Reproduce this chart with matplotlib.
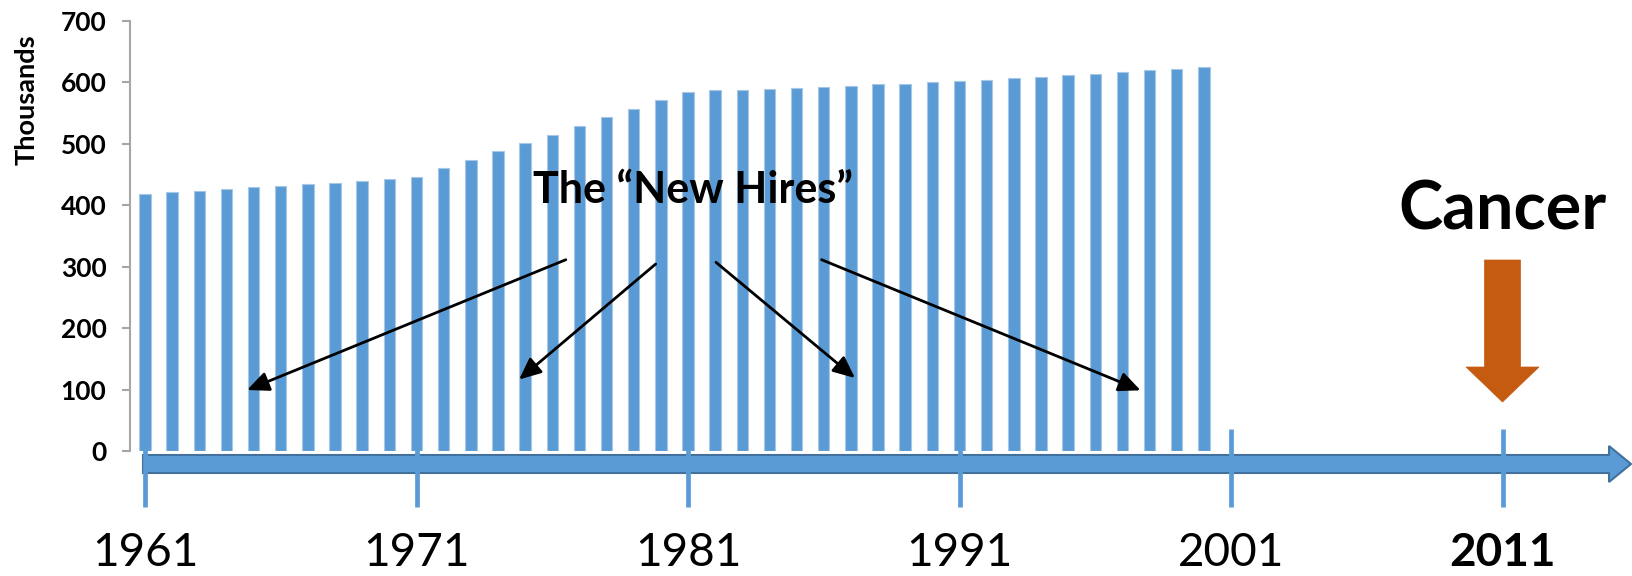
import matplotlib
matplotlib.use("Agg")
import matplotlib.pyplot as plt
from matplotlib.patches import Polygon

plt.rcParams['font.family'] = ['Lato', 'DejaVu Sans']

# ---- data ----
years = list(range(1961, 2001))
values = [418, 421, 423, 426, 429, 432, 435, 437, 440, 442,
          446, 460, 474, 488, 501, 515, 529, 543, 557, 571,
          584, 587, 588, 590, 591, 593, 595, 597, 598, 600,
          602, 604, 607, 609, 612, 614, 617, 620, 622, 625]
tick_years = [1961, 1971, 1981, 1991, 2001, 2011]
tick_labels = ['1961', '1971', '1981', '1991', '2001', '2011']
y_ticks = [0, 100, 200, 300, 400, 500, 600, 700]
y_label = 'Thousands'
note_text = 'The \u201cNew Hires\u201d'
event_text = 'Cancer'
event_year = 2011

BLUE = '#5B9BD5'
DARK = '#41719C'
ORANGE = '#C55A11'
W, H = 1633, 576

fig = plt.figure(figsize=(W / 100, H / 100), dpi=100)

# main axes placed so that the y axis line is at x=130px, 0 at y=451px, 700 at y=21px
ax = fig.add_axes([130 / W, (H - 451) / H, (W - 130) / W, (451 - 21) / H])
px_per_year = 27.15
ax.set_xlim(1961 - 15 / px_per_year, 1961 + (W - 145) / px_per_year)
ax.set_ylim(0, 700)
px_per_unit = (451 - 21) / 700.0

ax.bar(years, values, width=0.42, color=BLUE, edgecolor='#A7C7E7', linewidth=0.8, zorder=3)

for s in ['top', 'right', 'bottom']:
    ax.spines[s].set_visible(False)
ax.spines['left'].set_color('#A6A6A6')
ax.spines['left'].set_linewidth(1.5)
ax.set_yticks(y_ticks)
ax.set_yticklabels([str(v) for v in y_ticks], fontsize=19, fontweight='bold')
ax.tick_params(axis='y', length=6, width=1.5, color='#A6A6A6', pad=11)

ax.set_ylabel(y_label, fontsize=19.5, fontweight='bold')
ax.yaxis.label.set_va('center')
ax.yaxis.set_label_coords((27 - 130) / (W - 130), (451 - 100) / (451 - 21))

ax.set_xticks(tick_years)
ax.set_xticklabels(tick_labels, fontsize=33)
ax.tick_params(axis='x', length=0, pad=58)
for lbl in ax.get_xticklabels():
    if lbl.get_text() == str(event_year):
        lbl.set_fontweight('bold')

# overlay for the timeline arrow shape (pixel coords)
deco = fig.add_axes([0, 0, 1, 1], zorder=-1)
deco.set_xlim(0, W)
deco.set_ylim(H, 0)
deco.axis('off')
tl = Polygon([(143, 455), (1609, 455), (1609, 446), (1631, 464),
              (1609, 482), (1609, 473), (143, 473)],
             closed=True, facecolor=BLUE, edgecolor=DARK, linewidth=1.5)
deco.add_patch(tl)
ax.set_zorder(1)
ax.patch.set_alpha(0)

# year tick marks on the timeline
top_d = (451 - 429) / px_per_unit
bot_d = (451 - 507) / px_per_unit
ax.vlines(tick_years, bot_d, top_d, colors=BLUE, linewidth=3.4, clip_on=False, zorder=2)

# orange event arrow (drawn in data units derived from pixel sizes)
hw_shaft = 18 / px_per_year
hw_head = 36.5 / px_per_year
y_top = (451 - 260) / px_per_unit
y_base = (451 - 367) / px_per_unit
y_tip = (451 - 402) / px_per_unit
ex = event_year
arr = Polygon([(ex - hw_shaft, y_top), (ex + hw_shaft, y_top), (ex + hw_shaft, y_base),
               (ex + hw_head, y_base), (ex, y_tip), (ex - hw_head, y_base),
               (ex - hw_shaft, y_base)], closed=True, facecolor=ORANGE,
              edgecolor=ORANGE, linewidth=0.5, clip_on=False, zorder=4)
ax.add_patch(arr)
ax.text(ex, (451 - 230) / px_per_unit, event_text, ha='center', va='baseline',
        fontsize=48, fontweight='bold', zorder=5)

ax.text(1981.2, (451 - 203) / px_per_unit, note_text, ha='center', va='baseline',
        fontsize=31, fontweight='bold', zorder=5)

arrows = [((1976.5, 311.4), (1964.76, 99.3)),
          ((1979.81, 304.4), (1974.78, 116.4)),
          ((1982.03, 307.2), (1987.15, 118.8)),
          ((1985.92, 311.4), (1997.67, 98.8))]
for start, tip in arrows:
    ax.annotate('', xy=tip, xytext=start, zorder=6,
                arrowprops=dict(arrowstyle='-|>,head_length=0.6,head_width=0.27',
                                color='black', lw=2, mutation_scale=22,
                                shrinkA=0, shrinkB=0))

fig.savefig('out.png', dpi=100)
